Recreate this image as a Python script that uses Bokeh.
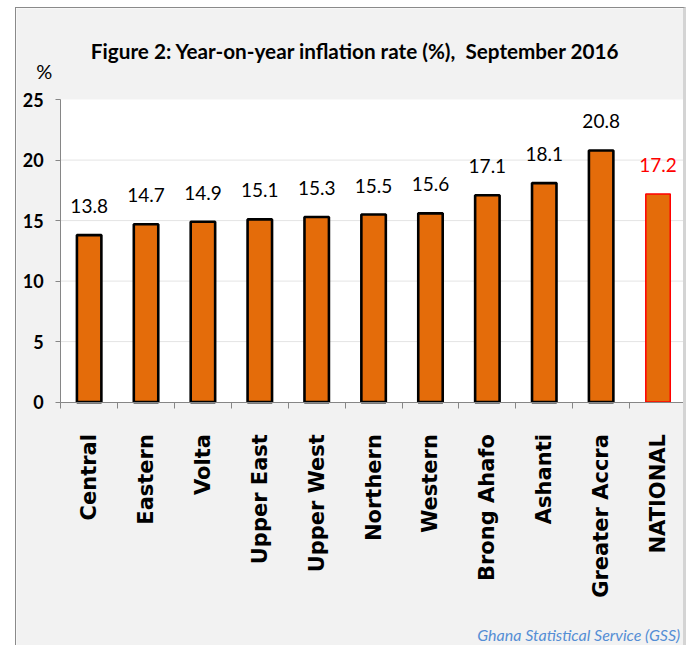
import math
from bokeh.plotting import figure
from bokeh.models import Range1d, FixedTicker, ColumnDataSource
from bokeh.core.properties import value
from bokeh.embed import file_html
from bokeh.resources import INLINE

# ---- data ----
regions = ["Central", "Eastern", "Volta", "Upper East", "Upper West", "Northern",
           "Western", "Brong Ahafo", "Ashanti", "Greater Accra", "NATIONAL"]
inflation = [13.8, 14.7, 14.9, 15.1, 15.3, 15.5, 15.6, 17.1, 18.1, 20.8, 17.2]
y_ticks = [0, 5, 10, 15, 20, 25]
title_text = "Figure 2: Year-on-year inflation rate (%),\u00a0 September 2016"
unit_text = "%"
source_text = "Ghana Statistical Service (GSS)"

FONT = "Lato"

n = len(regions)
y_max = max(y_ticks)
xs = [i + 0.5 for i in range(n)]
is_nat = [r == "NATIONAL" for r in regions]
src = ColumnDataSource(dict(
    x=xs,
    top=inflation,
    label=[f"{v:.1f}" for v in inflation],
    line_color=["#ff0000" if k else "#000000" for k in is_nat],
    line_width=[1.5 if k else 2.6 for k in is_nat],
    text_color=["#ff0000" if k else "#000000" for k in is_nat],
))
grid_src = ColumnDataSource(dict(y=y_ticks[1:-1]))

# frame covers the whole canvas; the axes sit at data 0 (fixed_location)
p = figure(width=671, height=638,
           x_range=Range1d(-0.777, 11.018), y_range=Range1d(-20.2, 32.53),
           output_backend="svg", toolbar_location=None, tools="",
           min_border_left=0, min_border_right=0, min_border_top=0, min_border_bottom=0,
           background_fill_color="#f2f2f2", border_fill_color="#f2f2f2",
           margin=(7, 8, 0, 15),
           styles={"border-left": "1px solid #8a8a8a", "border-top": "1px solid #8a8a8a",
                   "border-right": "3px solid #d4d4d4", "box-sizing": "border-box"})
p.outline_line_color = None
p.xgrid.visible = False
p.ygrid.visible = False

# white plot area and horizontal gridlines
p.quad(left=0, right=n, bottom=0, top=y_max, fill_color="white", line_color=None)
p.segment(x0=0, x1=n, y0="y", y1="y", source=grid_src, line_color="#e4e4e4", line_width=1)

p.vbar(x="x", top="top", width=0.43, bottom=0, source=src,
       fill_color="#e46c0a", line_color="line_color", line_width="line_width")

p.text(x="x", y="top", text="label", source=src, text_color="text_color",
       text_align="center", text_baseline="alphabetic", y_offset=-29,
       text_font=value(FONT), text_font_size="19px")

# y axis
ya = p.yaxis[0]
ya.fixed_location = 0
ya.bounds = (0, y_max)
ya.ticker = FixedTicker(ticks=y_ticks)
ya.axis_line_color = "#868686"
ya.major_tick_line_color = "#868686"
ya.major_tick_out = 5
ya.major_tick_in = 0
ya.minor_tick_line_color = None
ya.major_label_standoff = 12
ya.major_label_text_font = FONT
ya.major_label_text_font_style = "bold"
ya.major_label_text_font_size = "18px"
ya.major_label_text_color = "#000000"

# x axis: labels at centres, ticks at category boundaries
xa = p.xaxis[0]
xa.fixed_location = 0
xa.bounds = (0, n)
xa.ticker = FixedTicker(ticks=xs, minor_ticks=list(range(n + 1)))
xa.major_label_overrides = {x: r for x, r in zip(xs, regions)}
xa.axis_line_color = "#868686"
xa.major_tick_line_color = None
xa.major_tick_out = 0
xa.major_tick_in = 0
xa.minor_tick_line_color = "#868686"
xa.minor_tick_out = 6
xa.minor_tick_in = 0
xa.major_label_orientation = math.pi / 2
xa.major_label_standoff = 26
xa.major_label_text_font = "DejaVu Sans"
xa.major_label_text_font_style = "bold"
xa.major_label_text_font_size = "21px"
xa.major_label_text_color = "#000000"

# title, unit and source
p.text(x=[0.53], y=[29.05], text=[title_text], text_font=value(FONT),
       text_font_style="bold", text_font_size="20.7px", text_color="#000000",
       text_baseline="alphabetic", text_align="left")
p.text(x=[-0.29], y=[27.4], text=[unit_text], text_font=value(FONT),
       text_font_size="20px", text_color="#000000",
       text_baseline="alphabetic", text_align="center")
p.text(x=[10.89], y=[-19.2], text=[source_text], text_font=value(FONT),
       text_font_style="italic", text_font_size="16px", text_color="#558ed5",
       text_baseline="middle", text_align="right")

open("out.html", "w").write(file_html(p, INLINE))
